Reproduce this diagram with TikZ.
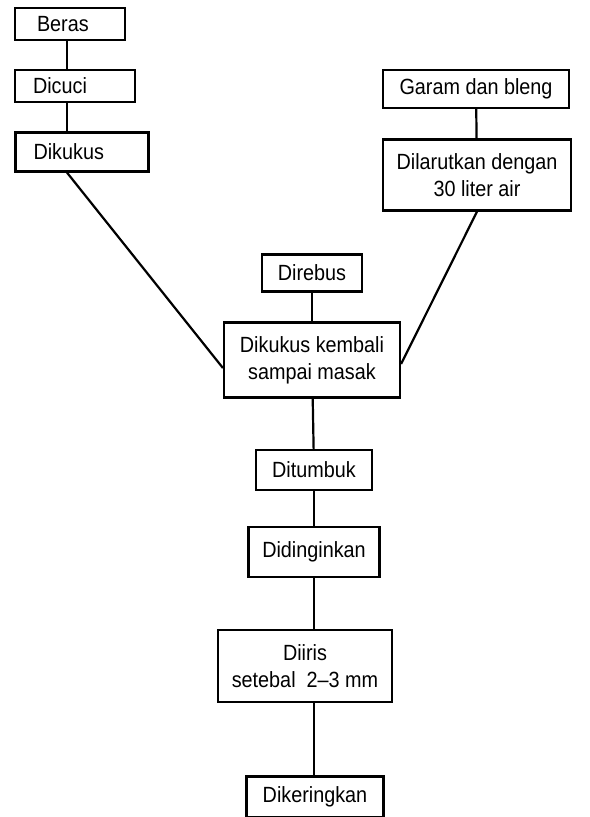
\documentclass[tikz,border=0pt]{standalone}
\usepackage{fontspec}
\setmainfont[FakeStretch=0.9]{Liberation Sans}

\begin{document}
\begin{tikzpicture}[x=0.5pt,y=-0.5pt]
\tikzset{box/.style={draw, line width=1.1pt, inner sep=2pt, align=center, font=\fontsize{11}{13.5}\selectfont},
leftbox/.style={box, align=left, inner xsep=#1},
link/.style={line width=1.1pt}}
\useasboundingbox (0,0) rectangle (589,817);
\node[leftbox=11pt, text width=33pt, minimum height=16pt] (beras) at (70,24) {Beras};
\node[leftbox=9pt, text width=42pt, minimum height=16pt] (dicuci) at (75,86) {Dicuci};
\node[leftbox=9pt, text width=48.5pt, minimum height=19.5pt] (dikukus) at (82,152) {Dikukus};
\node[box, minimum width=93pt, minimum height=19pt] (garam) at (476,89) {Garam dan bleng};
\node[box, minimum width=94pt, minimum height=35.5pt] (larut) at (477,175) {Dilarutkan dengan\\30 liter air};
\node[box, minimum width=50pt, minimum height=18.5pt] (rebus) at (312,273) {Direbus};
\node[box, minimum width=88pt, minimum height=37.5pt] (kukus) at (312,360) {Dikukus kembali\\sampai masak};
\node[box, minimum width=58pt, minimum height=20pt] (tumbuk) at (314,470) {Ditumbuk};
\node[box, minimum width=65.5pt, minimum height=25pt] (dingin) at (314,552) {Didinginkan};
\node[box, minimum width=87pt, minimum height=36pt] (iris) at (305,666) {Diiris\\setebal\ \ 2--3 mm};
\node[box, minimum width=68.5pt, minimum height=20.5pt] (kering) at (315,797) {Dikeringkan};
\coordinate (lx) at (67,0);
% left column
\draw[link] (beras.south -| lx) -- (dicuci.north -| lx);
\draw[link] (dicuci.south -| lx) -- (dikukus.north -| lx);
\draw[link] (dikukus.south -| lx) -- ([yshift=-4pt]kukus.west);
% right column
\draw[link] (garam) -- (larut);
\draw[link] (larut.south) -- ([yshift=-2pt]kukus.east);
% main line
\draw[link] (rebus) -- (kukus);
\draw[link] (kukus) -- (tumbuk);
\draw[link] (tumbuk) -- (dingin);
\draw[link] (dingin.south) -- (dingin.south |- iris.north);
\draw[link] (dingin.south |- iris.south) -- (dingin.south |- kering.north);
\end{tikzpicture}
\end{document}
